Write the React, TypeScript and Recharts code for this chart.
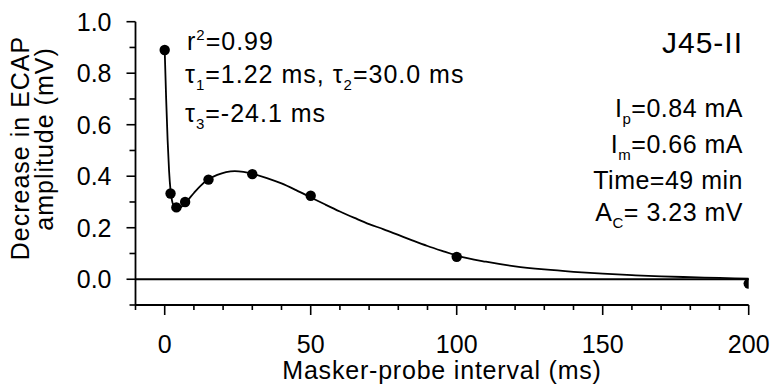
import React from "react";
import { ComposedChart, Line, Scatter, XAxis, YAxis, ReferenceLine } from "recharts";

// measured points
const intervalMs = [0, 2, 4, 7, 15, 30, 50, 100, 200];
const decreaseMv = [0.89, 0.333, 0.279, 0.3, 0.387, 0.408, 0.324, 0.087, -0.017];

// fitted curve
const fitMs = [
  0, 0.5, 1, 1.5, 2, 2.5, 3, 4, 5, 6, 7, 8, 10, 12, 15, 18, 21, 24, 27, 30, 35, 40, 45, 50, 55,
  60, 65, 70, 75, 80, 85, 90, 95, 100, 110, 120, 130, 140, 150, 160, 170, 180, 190, 200,
];
const fitMv = [
  0.89, 0.7, 0.54, 0.42, 0.345, 0.305, 0.287, 0.276, 0.276, 0.284, 0.295, 0.308, 0.335, 0.36,
  0.388, 0.405, 0.416, 0.42, 0.417, 0.41, 0.393, 0.372, 0.346, 0.318, 0.29, 0.263, 0.238, 0.214,
  0.194, 0.172, 0.15, 0.129, 0.11, 0.092, 0.068, 0.05, 0.038, 0.029, 0.022, 0.016, 0.011, 0.008,
  0.005, 0.002,
];

const xTicks = [-10, 0, 10, 20, 30, 40, 50, 60, 70, 80, 90, 100, 110, 120, 130, 140, 150, 160, 170, 180, 190, 200];
const yTicks = [-0.1, 0, 0.1, 0.2, 0.3, 0.4, 0.5, 0.6, 0.7, 0.8, 0.9, 1.0];

const points = intervalMs.map((t, i) => ({ t, v: decreaseMv[i] }));
const curve = fitMs.map((t, i) => ({ t, v: fitMv[i] }));

const FONT = '"Liberation Sans", Arial, Helvetica, sans-serif';
const W = 774;
const H = 386;

function XTick({ x, y, payload }: any) {
  const v = payload.value;
  const major = v % 50 === 0;
  return (
    <g>
      <line x1={x} x2={x} y1={y} y2={y + (major ? 10 : 5)} stroke="#000" strokeWidth={1.6} />
      {major && (
        <text x={x} y={y + 48} textAnchor="middle" fontSize={25} fontFamily={FONT} fill="#000">
          {v}
        </text>
      )}
    </g>
  );
}

function YTick({ x, y, payload }: any) {
  const v = payload.value;
  const major = Math.round(v * 10) % 2 === 0;
  return (
    <g>
      <line x1={x - (major ? 9 : 6)} x2={x} y1={y} y2={y} stroke="#000" strokeWidth={1.6} />
      {major && (
        <text x={x - 24} y={y} dy="0.36em" textAnchor="end" fontSize={25} fontFamily={FONT} fill="#000">
          {v.toFixed(1)}
        </text>
      )}
    </g>
  );
}

const Dot = (props: any) => <circle cx={props.cx} cy={props.cy} r={5.2} fill="#000" />;

function Notes() {
  const t = { fontFamily: FONT, fill: "#000" };
  return (
    <svg width={W} height={H} style={{ position: "absolute", left: 0, top: 0, pointerEvents: "none" }}>
      <text x={29} y={148} transform="rotate(-90 29 148)" textAnchor="middle" fontSize={25} letterSpacing={1} {...t}>
        Decrease in ECAP
      </text>
      <text x={53} y={139} transform="rotate(-90 53 139)" textAnchor="middle" fontSize={25} letterSpacing={1} {...t}>
        amplitude (mV)
      </text>
      <text x={442} y={379} textAnchor="middle" fontSize={25} letterSpacing={0.8} {...t}>
        Masker-probe interval (ms)
      </text>

      <text x={187} y={50} fontSize={25} letterSpacing={1} {...t}>
        r<tspan dy={-10} fontSize={15}>2</tspan>
        <tspan dy={10}>=0.99</tspan>
      </text>
      <text x={185} y={83} fontSize={25} letterSpacing={1} {...t}>
        τ<tspan dy={7} fontSize={15}>1</tspan>
        <tspan dy={-7}>=1.22 ms, τ</tspan>
        <tspan dy={7} fontSize={15}>2</tspan>
        <tspan dy={-7}>=30.0 ms</tspan>
      </text>
      <text x={185} y={122} fontSize={25} letterSpacing={1} {...t}>
        τ<tspan dy={7} fontSize={15}>3</tspan>
        <tspan dy={-7}>=-24.1 ms</tspan>
      </text>

      <text x={743} y={53} textAnchor="end" fontSize={30} letterSpacing={1} {...t}>
        J45-II
      </text>
      <text x={743} y={117} textAnchor="end" fontSize={25} letterSpacing={0.5} {...t}>
        I<tspan dy={7} fontSize={15}>p</tspan>
        <tspan dy={-7}>=0.84 mA</tspan>
      </text>
      <text x={743} y={153} textAnchor="end" fontSize={25} letterSpacing={0.5} {...t}>
        I<tspan dy={7} fontSize={15}>m</tspan>
        <tspan dy={-7}>=0.66 mA</tspan>
      </text>
      <text x={743} y={189} textAnchor="end" fontSize={25} letterSpacing={0.5} {...t}>
        Time=49 min
      </text>
      <text x={743} y={221} textAnchor="end" fontSize={25} letterSpacing={0.5} {...t}>
        A<tspan dy={7} fontSize={15}>C</tspan>
        <tspan dy={-7}>= 3.23 mV</tspan>
      </text>
    </svg>
  );
}

export default function App() {
  return (
    <div style={{ position: "absolute", left: 0, top: 0, width: W, height: H, background: "#fff" }}>
      <ComposedChart width={W} height={H} margin={{ top: 21.7, right: 25.3, bottom: 41, left: 75.5 }}>
        <XAxis
          type="number"
          dataKey="t"
          domain={[-10, 200]}
          ticks={xTicks}
          interval={0}
          height={40}
          tickSize={0}
          tickMargin={0}
          tick={<XTick />}
          axisLine={{ stroke: "#000", strokeWidth: 1.8 }}
          allowDataOverflow
        />
        <YAxis
          type="number"
          dataKey="v"
          domain={[-0.1, 1.0]}
          ticks={yTicks}
          interval={0}
          width={60}
          tickSize={0}
          tickMargin={0}
          tick={<YTick />}
          axisLine={{ stroke: "#000", strokeWidth: 1.8 }}
          allowDataOverflow
        />
        <ReferenceLine y={0} stroke="#000" strokeWidth={1.8} />
        <Line
          data={curve}
          dataKey="v"
          type="monotone"
          stroke="#000"
          strokeWidth={1.8}
          dot={false}
          activeDot={false}
          isAnimationActive={false}
        />
        <Scatter data={points} dataKey="v" fill="#000" shape={<Dot />} isAnimationActive={false} />
      </ComposedChart>
      <Notes />
    </div>
  );
}
